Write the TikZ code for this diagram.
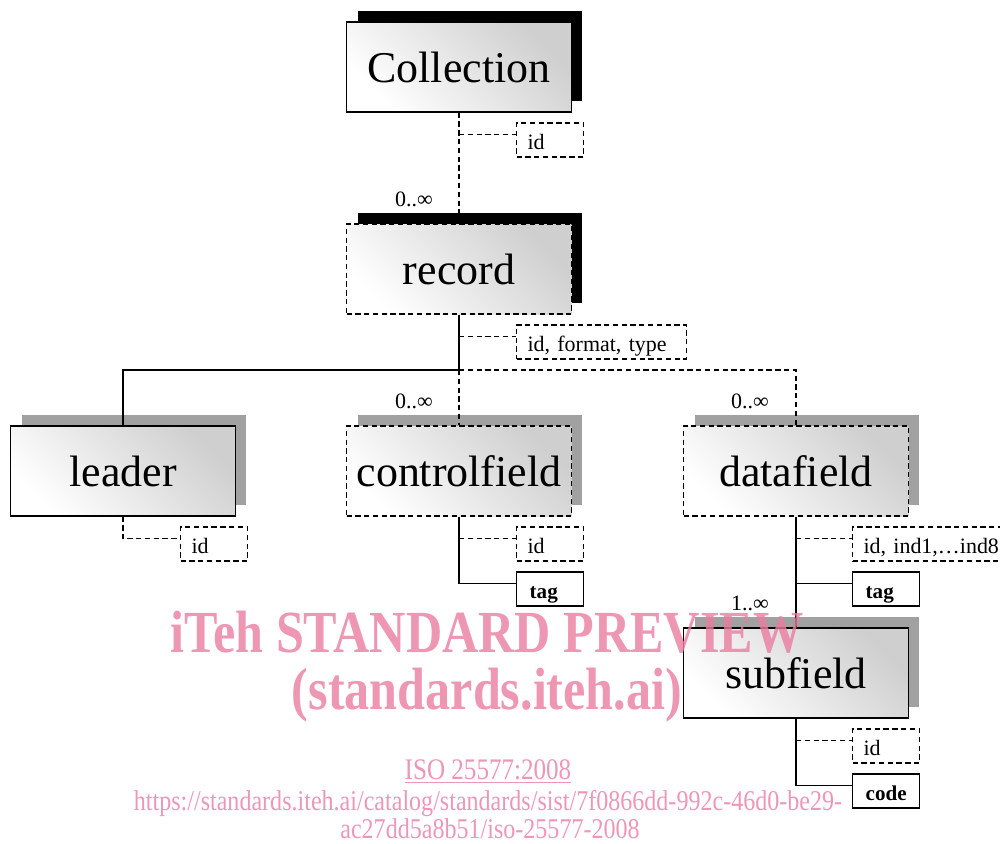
\documentclass[tikz,border=0pt]{standalone}
\usepackage{fontspec}
\setmainfont{Liberation Serif}
\usetikzlibrary{shadows}
\definecolor{wmark}{RGB}{234,125,160}

\tikzset{
  entity/.style={draw,line width=0.8pt,minimum width=4.5cm,minimum height=1.8cm,inner sep=0pt,
    top color=black!19,bottom color=white,shading angle=-45,font=\fontsize{25}{30}\selectfont},
  dsh/.style={dash pattern=on 3pt off 2pt},
  heavy/.style={general shadow={fill=black,shadow xshift=0.22cm,shadow yshift=0.22cm}},
  light/.style={general shadow={fill=black!37,shadow xshift=0.22cm,shadow yshift=0.22cm}},
  attr/.style={draw,dsh,line width=0.6pt,anchor=west,minimum height=0.68cm,inner xsep=0.22cm,
    inner ysep=0pt,text height=11pt,text depth=0pt,align=left,font=\fontsize{12.5}{15}\selectfont},
  elem/.style={draw,line width=0.8pt,anchor=west,minimum height=0.68cm,inner xsep=0.26cm,
    inner ysep=0pt,text height=11pt,text depth=0pt,align=left,text width=0.82cm,
    font=\fontsize{12}{14}\bfseries\selectfont},
  card/.style={font=\fontsize{12.5}{15}\selectfont},
  wm/.style={text=wmark,opacity=0.8,anchor=base,xscale=0.84}
}

\begin{document}
\begin{tikzpicture}[x=0.02cm,y=-0.02cm,line width=0.6pt]
\useasboundingbox (0,0) rectangle (1000,843);

% element boxes
\node[entity,heavy] (coll) at (459,67) {Collection};
\node[entity,heavy,dsh] (rec) at (459,269) {record};
\node[entity,light] (lead) at (123,471) {leader};
\node[entity,light,dsh] (kf) at (459,471) {controlfield};
\node[entity,light,dsh] (df) at (796,471) {datafield};
\node[entity,light] (sf) at (796,673) {subfield};

% attributes and small elements
\node[attr,text width=0.9cm] (cid) at (516,140) {id};
\node[attr,text width=2.96cm] (rattr) at (516,342) {id, format, type};
\node[attr,text width=0.9cm] (lid) at (180,544) {id};
\node[attr,text width=0.9cm] (kid) at (516,544) {id};
\node[elem] (ktag) at (516,589) {tag};
\node[attr,text width=3.1cm] (did) at (852,544) {\mbox{id, ind1,…ind8}};
\node[elem] (dtag) at (852,589) {tag};
\node[attr,text width=0.9cm] (sid) at (852,746) {id};
\node[elem] (scode) at (852,791) {code};

% cardinalities
\node[card] (mrec) at (414,199) {0..∞};
\node[card] (mkf) at (414,401) {0..∞};
\node[card] (mdf) at (750,401) {0..∞};
\node[card] (msf) at (750,603) {1..∞};

\coordinate (split) at (459,370);

% connectors
\draw[dsh] (coll) -- (rec);
\draw[dsh] ([yshift=3pt]coll |- cid.west) -- ([yshift=3pt]cid.west);
\draw (rec) -- (split);
\draw[dsh] ([yshift=3pt]rec |- rattr.west) -- ([yshift=3pt]rattr.west);
\draw (split) -| (lead);
\draw[dsh] (split) -- (kf);
\draw[dsh] (split) -| (df);
\draw[dsh] (lead) |- ([yshift=3pt]lid.west);
\draw (kf) |- ([yshift=3pt]ktag.west);
\draw[dsh] ([yshift=3pt]kf |- kid.west) -- ([yshift=3pt]kid.west);
\draw (df) -- (sf);
\draw[dsh] ([yshift=3pt]df |- did.west) -- ([yshift=3pt]did.west);
\draw ([yshift=3pt]df |- dtag.west) -- ([yshift=3pt]dtag.west);
\draw (sf) |- ([yshift=3pt]scode.west);
\draw[dsh] ([yshift=3pt]sf |- sid.west) -- ([yshift=3pt]sid.west);

% watermark
\node[wm,font=\fontsize{34}{40}\bfseries\selectfont] (wm1) at (487,652) {iTeh STANDARD PREVIEW};
\node[wm,font=\fontsize{34}{40}\bfseries\selectfont] (wm2) at (487,709) {(standards.iteh.ai)};
\node[wm,font=\fontsize{17}{20}\selectfont] (wm3) at (488,779) {\underline{ISO 25577:2008}};
\node[wm,font=\fontsize{16.3}{20}\selectfont] (wm4) at (488,810) {https://standards.iteh.ai/catalog/standards/sist/7f0866dd-992c-46d0-be29-};
\node[wm,font=\fontsize{16.3}{20}\selectfont] (wm5) at (490,838) {ac27dd5a8b51/iso-25577-2008};
\end{tikzpicture}
\end{document}
